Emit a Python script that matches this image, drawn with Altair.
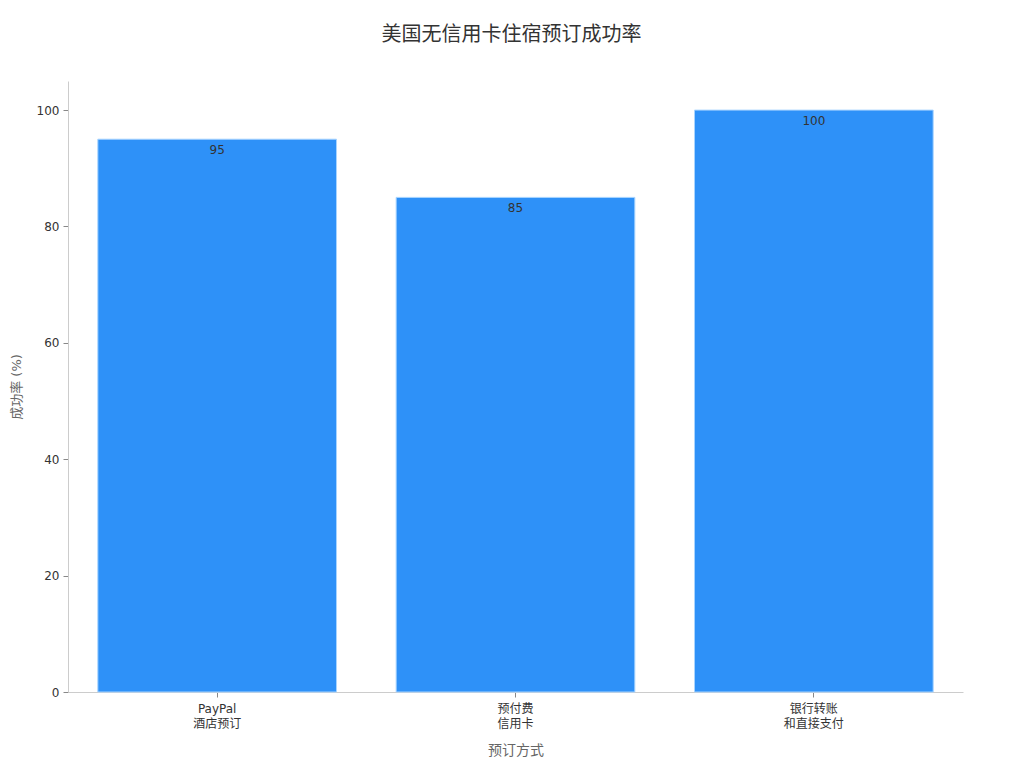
import altair as alt
import pandas as pd

categories = ["PayPal\n酒店预订", "预付费\n信用卡", "银行转账\n和直接支付"]
values = [95, 85, 100]

df = pd.DataFrame({"method": categories, "rate": values})

FONT = "DejaVu Sans, Noto Sans CJK SC, sans-serif"

base = alt.Chart(df).encode(
    x=alt.X(
        "method:N",
        sort=categories,
        title="预订方式",
        scale=alt.Scale(paddingInner=0.2, paddingOuter=0.1),
        axis=alt.Axis(
            labelAngle=0,
            labelExpr="split(datum.label, '\\n')",
            labelFontSize=12,
            labelColor="#333333",
            labelLineHeight=15,
            titleFontSize=14,
            titleColor="#666666",
            titleFontWeight="normal",
            titlePadding=14,
            domainColor="#cccccc",
            tickColor="#888888",
            tickSize=5,
            labelPadding=6,
        ),
    ),
    y=alt.Y(
        "rate:Q",
        title="成功率 (%)",
        scale=alt.Scale(domain=[0, 105], nice=False),
        axis=alt.Axis(
            values=[0, 20, 40, 60, 80, 100],
            grid=False,
            labelFontSize=12,
            labelColor="#333333",
            titleFontSize=13,
            titleColor="#666666",
            titleFontWeight="normal",
            titlePadding=13,
            domainColor="#cccccc",
            tickColor="#888888",
            tickSize=5,
            labelPadding=4,
        ),
    ),
)

bars = base.mark_bar(color="#2E91F8", stroke="#a8d4ff", strokeWidth=1)
text = base.mark_text(baseline="top", dy=6, fontSize=12, color="#333333", font=FONT).encode(
    text="rate:Q"
)

chart = (
    (bars + text)
    .properties(
        width=895,
        height=611,
        title=alt.TitleParams(
            "美国无信用卡住宿预订成功率",
            fontSize=20,
            color="#333333",
            fontWeight="normal",
            anchor="middle",
            offset=36,
            dx=-4,
        ),
        autosize=alt.AutoSizeParams(type="none"),
        padding={"left": 60, "top": 73, "right": 53, "bottom": 68},
    )
    .configure(font=FONT)
    .configure_view(stroke=None)
)

chart.save("out.html", embed_options={"renderer": "svg", "actions": False})
